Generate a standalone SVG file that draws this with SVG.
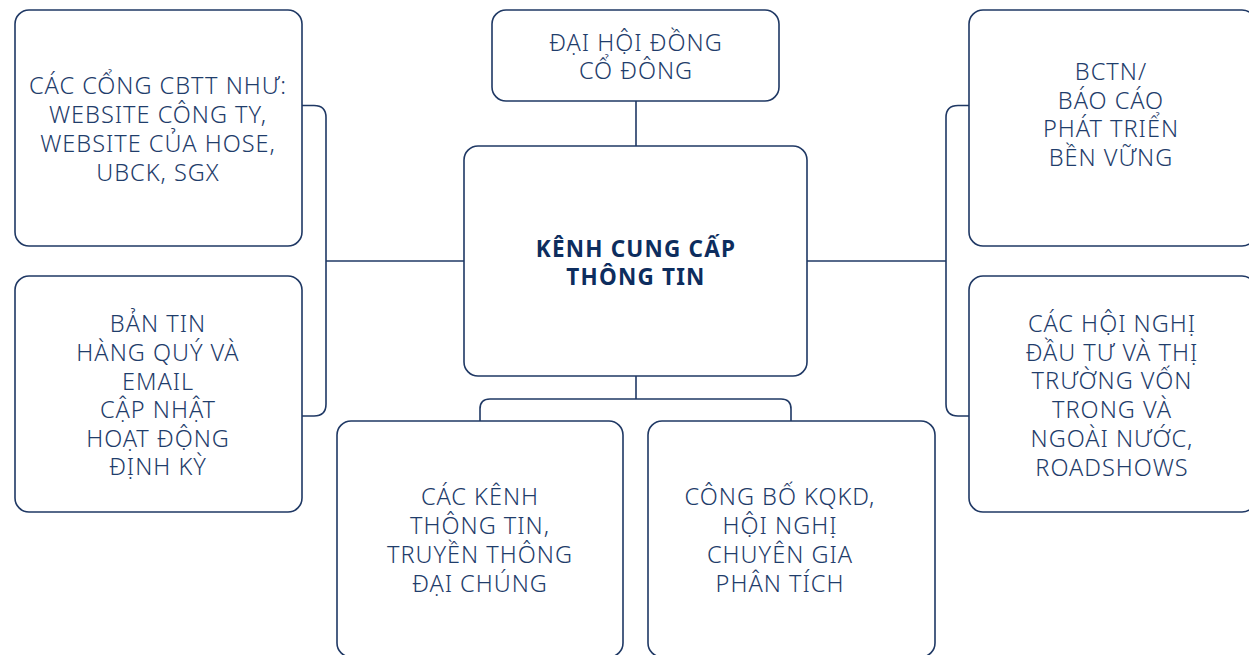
<svg xmlns="http://www.w3.org/2000/svg" width="1249" height="655" viewBox="0 0 1249 655">
<style>
.box{fill:#fff;stroke:#1f3864;stroke-width:1.6}
.con{fill:none;stroke:#1f3864;stroke-width:1.6}
.t{font-family:"Noto Sans","Liberation Sans",sans-serif;font-size:23.5px;font-weight:300;letter-spacing:1px;fill:#1f3d6b;text-anchor:middle}
.b{font-family:"Noto Sans","Liberation Sans",sans-serif;font-size:22.5px;font-weight:700;letter-spacing:1.2px;fill:#0d2d5e;text-anchor:middle}
</style>
<rect width="1249" height="655" fill="#fff"/>
<g id="connectors">
<path class="con" d="M302,105.5 H314 Q326,105.5 326,117.5 V404 Q326,416 314,416 H302"/>
<path class="con" d="M326,261 H464"/>
<path class="con" d="M969,105.5 H958 Q946,105.5 946,117.5 V404 Q946,416 958,416 H969"/>
<path class="con" d="M807,261 H946"/>
<path class="con" d="M636,101 V146"/>
<path class="con" d="M636,376 V399"/>
<path class="con" d="M480,421 V409 Q480,399 490,399 H781 Q791,399 791,409 V421"/>
</g>
<g id="n-left-top">
<rect class="box" x="15" y="10" width="287" height="236" rx="14"/>
<text class="t"><tspan x="158" y="93.5">CÁC CỔNG CBTT NHƯ:</tspan><tspan x="158" y="122.5">WEBSITE CÔNG TY,</tspan><tspan x="158" y="151.5">WEBSITE CỦA HOSE,</tspan><tspan x="158" y="180.5">UBCK, SGX</tspan></text>
</g>
<g id="n-left-bottom">
<rect class="box" x="15" y="276" width="287" height="236" rx="14"/>
<text class="t"><tspan x="158" y="331.5">BẢN TIN</tspan><tspan x="158" y="360.5">HÀNG QUÝ VÀ</tspan><tspan x="158" y="389.5">EMAIL</tspan><tspan x="158" y="417.5">CẬP NHẬT</tspan><tspan x="158" y="446.5">HOẠT ĐỘNG</tspan><tspan x="158" y="474.5">ĐỊNH KỲ</tspan></text>
</g>
<g id="n-top">
<rect class="box" x="492" y="10" width="287" height="91" rx="14"/>
<text class="t"><tspan x="636" y="50.5">ĐẠI HỘI ĐỒNG</tspan><tspan x="636" y="78.5">CỔ ĐÔNG</tspan></text>
</g>
<g id="n-center">
<rect class="box" x="464" y="146" width="343" height="230" rx="14"/>
<text class="b"><tspan x="636" y="256.5">KÊNH CUNG CẤP</tspan><tspan x="636" y="284.5">THÔNG TIN</tspan></text>
</g>
<g id="n-right-top">
<rect class="box" x="969" y="10" width="287" height="236" rx="14"/>
<text class="t"><tspan x="1111" y="79.5">BCTN/</tspan><tspan x="1111" y="108.5">BÁO CÁO</tspan><tspan x="1111" y="136.5">PHÁT TRIỂN</tspan><tspan x="1111" y="165.5">BỀN VỮNG</tspan></text>
</g>
<g id="n-right-bottom">
<rect class="box" x="969" y="276" width="287" height="236" rx="14"/>
<text class="t"><tspan x="1112" y="331.5">CÁC HỘI NGHỊ</tspan><tspan x="1112" y="360.5">ĐẦU TƯ VÀ THỊ</tspan><tspan x="1112" y="388.5">TRƯỜNG VỐN</tspan><tspan x="1112" y="417.5">TRONG VÀ</tspan><tspan x="1112" y="446.5">NGOÀI NƯỚC,</tspan><tspan x="1112" y="475.5">ROADSHOWS</tspan></text>
</g>
<g id="n-bottom-left">
<rect class="box" x="337" y="421" width="286" height="236" rx="14"/>
<text class="t"><tspan x="480" y="504.5">CÁC KÊNH</tspan><tspan x="480" y="533.5">THÔNG TIN,</tspan><tspan x="480" y="562.5">TRUYỀN THÔNG</tspan><tspan x="480" y="591.5">ĐẠI CHÚNG</tspan></text>
</g>
<g id="n-bottom-right">
<rect class="box" x="648" y="421" width="287" height="236" rx="14"/>
<text class="t"><tspan x="780" y="504.5">CÔNG BỐ KQKD,</tspan><tspan x="780" y="533.5">HỘI NGHỊ</tspan><tspan x="780" y="562.5">CHUYÊN GIA</tspan><tspan x="780" y="591.5">PHÂN TÍCH</tspan></text>
</g>
</svg>
